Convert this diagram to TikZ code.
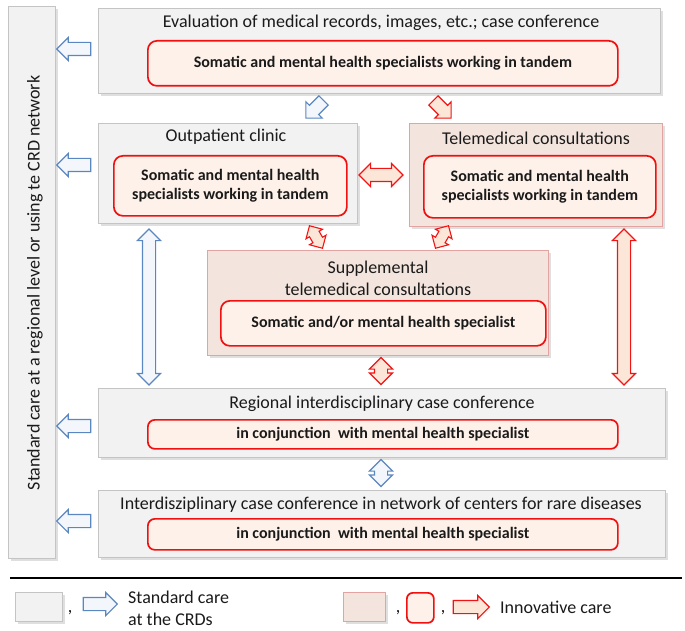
\documentclass[tikz,border=0pt]{standalone}
\usepackage{fontspec}
\setmainfont{Carlito}
\usetikzlibrary{shapes.arrows,shadows}
\definecolor{grayfill}{HTML}{F2F2F2}
\definecolor{grayline}{HTML}{C4C4C4}
\definecolor{pinkfill}{HTML}{F3E5DD}
\definecolor{pinkline}{HTML}{E3A3A0}
\definecolor{innerfill}{HTML}{FDF1E9}
\definecolor{innerline}{HTML}{F01010}
\definecolor{bluearr}{HTML}{5B87C0}
\definecolor{bluefill}{HTML}{F3F6FB}
\definecolor{redarr}{HTML}{F21414}
\definecolor{redfill}{HTML}{FCE6D8}
\definecolor{txt}{HTML}{1A1A1A}
\tikzset{
  graybox/.style={draw=grayline, fill=grayfill, line width=1pt, inner sep=0pt, anchor=north west,
    drop shadow={shadow xshift=2.5pt, shadow yshift=-2.5pt, fill=black!25}},
  pinkbox/.style={draw=pinkline, fill=pinkfill, line width=1pt, inner sep=0pt, anchor=north west,
    drop shadow={shadow xshift=2.5pt, shadow yshift=-2.5pt, fill=black!25}},
  innerbox/.style={draw=innerline, fill=innerfill, line width=1.7pt, rounded corners=9pt, inner sep=0pt, anchor=north west},
  title/.style={text=txt, font=\fontsize{18}{22}\selectfont, inner sep=0pt},
  btext/.style={text=txt, font=\bfseries\fontsize{16}{19.5}\selectfont, inner sep=0pt, align=center},
  blueA/.style={draw=bluearr, fill=bluefill, line width=1.1pt},
  redA/.style={draw=redarr, fill=redfill, line width=1.1pt},
  sarr/.style={single arrow, single arrow head extend=5pt, minimum height=#1, inner xsep=0pt, inner ysep=6pt},
  darr/.style={double arrow, double arrow head extend=5pt, minimum height=#1, inner xsep=0pt, inner ysep=6pt},
  qarr/.style={double arrow, double arrow head extend=4pt, minimum height=#1, inner xsep=0pt, inner ysep=5pt},
}
\begin{document}
\begin{tikzpicture}[x=1pt,y=-1pt]
\useasboundingbox (0,0) rectangle (685,631);

% left vertical box
\node[graybox, minimum width=47pt, minimum height=552pt] (left) at (8,6) {};
\node[title, rotate=90] (lefttxt) at (35,283) {Standard care at a regional level or using te CRD network};

% top box
\node[graybox, minimum width=562pt, minimum height=85pt] (top) at (98,8) {};
\node[title] (toptitle) at (381,23) {Evaluation of medical records, images, etc.; case conference};
\node[innerbox, minimum width=470pt, minimum height=45pt] (topin) at (147,40) {};
\node[btext] (topintxt) at (topin.center) {Somatic and mental health specialists working in tandem};

% outpatient
\node[graybox, minimum width=259pt, minimum height=100pt] (out) at (98,123) {};
\node[title] (outtitle) at (226,137) {Outpatient clinic};
\node[innerbox, minimum width=233pt, minimum height=60pt] (outin) at (113,155) {};
\node[btext] (outintxt) at (outin.center) {Somatic and mental health\\specialists working in tandem};

% telemedical
\node[pinkbox, minimum width=253pt, minimum height=103pt] (tele) at (409,123) {};
\node[title] (teletitle) at (536,138) {Telemedical consultations};
\node[innerbox, minimum width=232pt, minimum height=62pt] (telein) at (423,155) {};
\node[btext] (teleintxt) at (telein.center) {Somatic and mental health\\specialists working in tandem};

% supplemental
\node[pinkbox, minimum width=341pt, minimum height=105pt] (sup) at (207,250) {};
\node[title, align=center] (suptitle) at (378,278) {Supplemental\\telemedical consultations};
\node[innerbox, minimum width=325pt, minimum height=45pt] (supin) at (220,300) {};
\node[btext] (supintxt) at (supin.center) {Somatic and/or mental health specialist};

% regional
\node[graybox, minimum width=567pt, minimum height=69pt] (reg) at (98,388) {};
\node[title] (regtitle) at (382,404) {Regional interdisciplinary case conference};
\node[innerbox, minimum width=470pt, minimum height=29pt, rounded corners=7pt] (regin) at (147,419) {};
\node[btext] (regintxt) at (regin.center) {in conjunction\ \ with mental health specialist};

% interdisziplinary
\node[graybox, minimum width=567pt, minimum height=67pt] (inter) at (98,490) {};
\node[title] (intertitle) at (381,505) {Interdisziplinary case conference in network of centers for rare diseases};
\node[innerbox, minimum width=470pt, minimum height=31pt, rounded corners=7pt] (interin) at (147,518) {};
\node[btext] (interintxt) at (interin.center) {in conjunction\ \ with mental health specialist};

% left-pointing blue arrows
\node[blueA, sarr=34pt, rotate=180] (a1) at (77,49) {};
\node[blueA, sarr=34pt, rotate=180] (a2) at (77,165) {};
\node[blueA, sarr=34pt, rotate=180] (a3) at (77,426) {};
\node[blueA, sarr=34pt, rotate=180] (a4) at (77,521) {};

% diagonal arrows from top box
\node[blueA, sarr=25pt, rotate=225] (d1) at (317,107) {};
\node[redA, sarr=25pt, rotate=315] (d2) at (440,107) {};

% horizontal red double arrow
\node[redA, darr=44pt] (h1) at (381,175) {};

% small bent double arrows
\node[redA, qarr=26pt, rotate=-60] (q1) at (316,237) {};
\node[redA, qarr=26pt, rotate=60] (q2) at (442,237) {};

% long vertical arrows
\node[blueA, darr=156pt, rotate=90] (v1) at (149,307) {};
\node[redA, darr=156pt, rotate=90] (v2) at (624,307) {};

% short vertical arrows
\node[redA, darr=27pt, rotate=90] (v3) at (381,371) {};
\node[blueA, darr=27pt, rotate=90] (v4) at (381,473) {};

% separator
\coordinate (s1) at (10,578);
\coordinate (s2) at (682,578);
\draw[line width=2.5pt, black] (s1) -- (s2);

% legend
\node[graybox, minimum width=47pt, minimum height=29pt] (lg1) at (15,592) {};
\node[title, anchor=base] (c1) at (70,612) {,};
\node[blueA, sarr=34pt] (la1) at (97,604) {};
\node[title, anchor=west, align=left] (lt1) at (128,608) {Standard care\\at the CRDs};

\node[pinkbox, minimum width=42pt, minimum height=29pt] (lg2) at (343,592) {};
\node[title, anchor=base] (c2) at (398,612) {,};
\node[innerbox, minimum width=27pt, minimum height=30pt, rounded corners=6pt] (lg3) at (406,592) {};
\node[title, anchor=base] (c3) at (443,612) {,};
\node[redA, sarr=36pt] (la2) at (468,607) {};
\node[title, anchor=west] (lt2) at (500,607) {Innovative care};
\end{tikzpicture}
\end{document}
